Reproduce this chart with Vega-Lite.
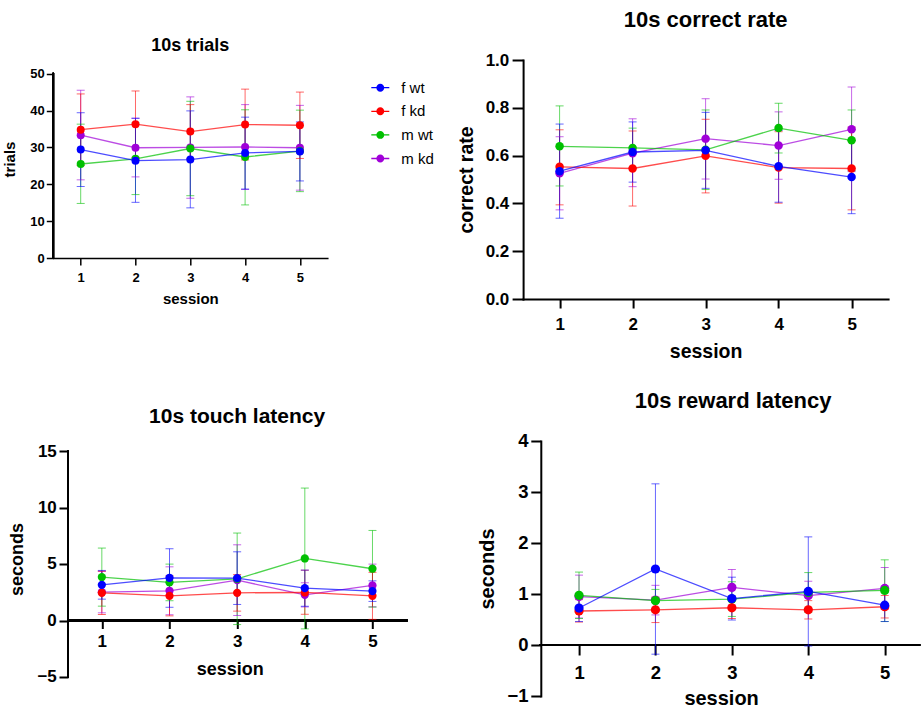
{
  "$schema": "https://vega.github.io/schema/vega-lite/v6.json",
  "padding": {"left": 2.3, "top": 9, "right": 0, "bottom": 0},
  "background": "white",
  "datasets": {
    "trials": [
      {"group": "m kd", "session": 1, "mean": 33.3, "lo": 21.2, "hi": 45.5},
      {"group": "m kd", "session": 2, "mean": 29.9, "lo": 22.0, "hi": 37.9},
      {"group": "m kd", "session": 3, "mean": 30.0, "lo": 16.2, "hi": 43.7},
      {"group": "m kd", "session": 4, "mean": 30.1, "lo": 18.6, "hi": 41.6},
      {"group": "m kd", "session": 5, "mean": 29.9, "lo": 18.4, "hi": 41.4},
      {"group": "m wt", "session": 1, "mean": 25.5, "lo": 14.8, "hi": 36.3},
      {"group": "m wt", "session": 2, "mean": 26.9, "lo": 17.2, "hi": 36.6},
      {"group": "m wt", "session": 3, "mean": 29.7, "lo": 16.9, "hi": 42.5},
      {"group": "m wt", "session": 4, "mean": 27.4, "lo": 14.4, "hi": 40.2},
      {"group": "m wt", "session": 5, "mean": 29.0, "lo": 18.0, "hi": 40.1},
      {"group": "f kd", "session": 1, "mean": 34.8, "lo": 25.1, "hi": 44.5},
      {"group": "f kd", "session": 2, "mean": 36.3, "lo": 27.3, "hi": 45.3},
      {"group": "f kd", "session": 3, "mean": 34.3, "lo": 27.0, "hi": 41.6},
      {"group": "f kd", "session": 4, "mean": 36.2, "lo": 26.6, "hi": 45.8},
      {"group": "f kd", "session": 5, "mean": 36.0, "lo": 27.0, "hi": 45.0},
      {"group": "f wt", "session": 1, "mean": 29.4, "lo": 19.4, "hi": 39.4},
      {"group": "f wt", "session": 2, "mean": 26.4, "lo": 15.1, "hi": 37.9},
      {"group": "f wt", "session": 3, "mean": 26.7, "lo": 13.6, "hi": 39.9},
      {"group": "f wt", "session": 4, "mean": 28.5, "lo": 18.7, "hi": 38.2},
      {"group": "f wt", "session": 5, "mean": 28.9, "lo": 20.9, "hi": 36.9}
    ],
    "correct": [
      {"group": "m kd", "session": 1, "mean": 0.526, "lo": 0.373, "hi": 0.679},
      {"group": "m kd", "session": 2, "mean": 0.61, "lo": 0.47, "hi": 0.754},
      {"group": "m kd", "session": 3, "mean": 0.671, "lo": 0.502, "hi": 0.838},
      {"group": "m kd", "session": 4, "mean": 0.642, "lo": 0.501, "hi": 0.783},
      {"group": "m kd", "session": 5, "mean": 0.71, "lo": 0.533, "hi": 0.887},
      {"group": "m wt", "session": 1, "mean": 0.639, "lo": 0.473, "hi": 0.808},
      {"group": "m wt", "session": 2, "mean": 0.632, "lo": 0.549, "hi": 0.715},
      {"group": "m wt", "session": 3, "mean": 0.624, "lo": 0.458, "hi": 0.791},
      {"group": "m wt", "session": 4, "mean": 0.715, "lo": 0.611, "hi": 0.819},
      {"group": "m wt", "session": 5, "mean": 0.664, "lo": 0.537, "hi": 0.791},
      {"group": "f kd", "session": 1, "mean": 0.553, "lo": 0.394, "hi": 0.708},
      {"group": "f kd", "session": 2, "mean": 0.546, "lo": 0.389, "hi": 0.703},
      {"group": "f kd", "session": 3, "mean": 0.599, "lo": 0.444, "hi": 0.752},
      {"group": "f kd", "session": 4, "mean": 0.55, "lo": 0.401, "hi": 0.70},
      {"group": "f kd", "session": 5, "mean": 0.546, "lo": 0.373, "hi": 0.719},
      {"group": "f wt", "session": 1, "mean": 0.535, "lo": 0.338, "hi": 0.732},
      {"group": "f wt", "session": 2, "mean": 0.615, "lo": 0.489, "hi": 0.741},
      {"group": "f wt", "session": 3, "mean": 0.622, "lo": 0.463, "hi": 0.781},
      {"group": "f wt", "session": 4, "mean": 0.555, "lo": 0.405, "hi": 0.705},
      {"group": "f wt", "session": 5, "mean": 0.51, "lo": 0.357, "hi": 0.663}
    ],
    "touch": [
      {"group": "m kd", "session": 1, "mean": 2.51, "lo": 0.68, "hi": 4.34},
      {"group": "m kd", "session": 2, "mean": 2.63, "lo": 0.51, "hi": 4.75},
      {"group": "m kd", "session": 3, "mean": 3.57, "lo": 0.44, "hi": 6.70},
      {"group": "m kd", "session": 4, "mean": 2.27, "lo": 1.2, "hi": 3.34},
      {"group": "m kd", "session": 5, "mean": 3.1, "lo": 1.21, "hi": 4.99},
      {"group": "m wt", "session": 1, "mean": 3.84, "lo": 1.27, "hi": 6.41},
      {"group": "m wt", "session": 2, "mean": 3.37, "lo": 1.75, "hi": 4.99},
      {"group": "m wt", "session": 3, "mean": 3.69, "lo": -0.36, "hi": 7.74},
      {"group": "m wt", "session": 4, "mean": 5.49, "lo": -0.74, "hi": 11.72},
      {"group": "m wt", "session": 5, "mean": 4.58, "lo": 1.19, "hi": 7.97},
      {"group": "f kd", "session": 1, "mean": 2.45, "lo": 0.53, "hi": 4.37},
      {"group": "f kd", "session": 2, "mean": 2.18, "lo": 0.41, "hi": 3.96},
      {"group": "f kd", "session": 3, "mean": 2.45, "lo": 0.83, "hi": 4.07},
      {"group": "f kd", "session": 4, "mean": 2.48, "lo": 0.55, "hi": 4.45},
      {"group": "f kd", "session": 5, "mean": 2.18, "lo": 0.1, "hi": 4.26},
      {"group": "f wt", "session": 1, "mean": 3.16, "lo": 1.89, "hi": 4.43},
      {"group": "f wt", "session": 2, "mean": 3.78, "lo": 1.17, "hi": 6.35},
      {"group": "f wt", "session": 3, "mean": 3.75, "lo": 1.42, "hi": 6.08},
      {"group": "f wt", "session": 4, "mean": 2.86, "lo": 1.26, "hi": 4.46},
      {"group": "f wt", "session": 5, "mean": 2.6, "lo": 1.69, "hi": 3.51}
    ],
    "reward": [
      {"group": "m kd", "session": 1, "mean": 0.95, "lo": 0.53, "hi": 1.37},
      {"group": "m kd", "session": 2, "mean": 0.88, "lo": 0.59, "hi": 1.17},
      {"group": "m kd", "session": 3, "mean": 1.13, "lo": 0.78, "hi": 1.48},
      {"group": "m kd", "session": 4, "mean": 0.97, "lo": 0.69, "hi": 1.25},
      {"group": "m kd", "session": 5, "mean": 1.11, "lo": 0.70, "hi": 1.52},
      {"group": "m wt", "session": 1, "mean": 0.974, "lo": 0.52, "hi": 1.43},
      {"group": "m wt", "session": 2, "mean": 0.87, "lo": 0.65, "hi": 1.09},
      {"group": "m wt", "session": 3, "mean": 0.90, "lo": 0.56, "hi": 1.24},
      {"group": "m wt", "session": 4, "mean": 1.03, "lo": 0.64, "hi": 1.42},
      {"group": "m wt", "session": 5, "mean": 1.07, "lo": 0.46, "hi": 1.67},
      {"group": "f kd", "session": 1, "mean": 0.667, "lo": 0.45, "hi": 0.89},
      {"group": "f kd", "session": 2, "mean": 0.69, "lo": 0.44, "hi": 0.94},
      {"group": "f kd", "session": 3, "mean": 0.73, "lo": 0.52, "hi": 0.94},
      {"group": "f kd", "session": 4, "mean": 0.69, "lo": 0.51, "hi": 0.87},
      {"group": "f kd", "session": 5, "mean": 0.75, "lo": 0.53, "hi": 0.97},
      {"group": "f wt", "session": 1, "mean": 0.725, "lo": 0.46, "hi": 0.99},
      {"group": "f wt", "session": 2, "mean": 1.49, "lo": -0.18, "hi": 3.16},
      {"group": "f wt", "session": 3, "mean": 0.91, "lo": 0.49, "hi": 1.33},
      {"group": "f wt", "session": 4, "mean": 1.05, "lo": -0.02, "hi": 2.12},
      {"group": "f wt", "session": 5, "mean": 0.78, "lo": 0.46, "hi": 1.10}
    ]
  },
  "resolve": {"scale": {"color": "independent"}, "legend": {"color": "independent"}},
  "columns": 2,
  "spacing": {"row": 28, "column": 21.8},
  "concat": [
    {
      "width": 274, "height": 198,
      "data": {"name": "trials"},
      "title": {"text": "10s trials", "fontSize": 18, "offset": 4.7, "frame": "group"},
      "encoding": {
        "x": {"field": "session", "type": "quantitative", "scale": {"domain": [0.5, 5.5], "nice": false, "zero": false},
          "axis": {"values": [1, 2, 3, 4, 5], "format": "d", "title": "session", "labelFontSize": 13, "titleFontSize": 15, "tickSize": 7, "labelPadding": 6, "titlePadding": 7, "domainWidth": 1.5, "tickWidth": 1.5}}
      },
      "layer": [
        {"mark": {"type": "rule", "color": "#000", "strokeWidth": 1.5, "strokeCap": "square"},
          "encoding": {
            "x": {"datum": 0.5, "type": "quantitative", "scale": {"domain": [0.5, 5.5], "nice": false, "zero": false}, "axis": {"values": [1, 2, 3, 4, 5], "format": "d", "title": "session", "labelFontSize": 13, "titleFontSize": 15, "tickSize": 7, "labelPadding": 6, "titlePadding": 7, "domainWidth": 1.5, "tickWidth": 1.5}},
            "y": {"datum": 0, "type": "quantitative", "scale": {"domain": [0, 53.7], "nice": false, "zero": false}, "axis": {"values": [0, 10, 20, 30, 40, 50], "title": "trials", "labelFontSize": 13, "titleFontSize": 15, "tickSize": 7, "labelPadding": 2, "titlePadding": 12.4, "domain": false, "tickWidth": 1.5}},
            "y2": {"datum": 50}}},
        {"mark": {"type": "rule", "strokeWidth": 1, "opacity": 0.6},
          "encoding": {"y": {"field": "lo", "type": "quantitative", "scale": {"domain": [0, 53.7], "nice": false, "zero": false}, "axis": {"values": [0, 10, 20, 30, 40, 50], "title": "trials", "labelFontSize": 13, "titleFontSize": 15, "tickSize": 7, "labelPadding": 2, "titlePadding": 12.4, "domain": false, "tickWidth": 1.5}}, "y2": {"field": "hi"},
            "color": {"field": "group", "type": "nominal", "scale": {"domain": ["f wt", "f kd", "m wt", "m kd"], "range": ["#0000FF", "#FF0000", "#00C000", "#A000D8"]},
              "legend": {"orient": "none", "legendX": 318, "legendY": 18.7, "title": null, "symbolType": "M-1,-0.07H1V0.07H-1Z M0.44,0A0.44,0.44 0 1,1 -0.44,0A0.44,0.44 0 1,1 0.44,0Z", "symbolSize": 324, "symbolStrokeWidth": 0, "symbolOpacity": 1, "labelFontSize": 15, "labelFont": "Liberation Sans", "labelFontWeight": "normal", "labelColor": "#000", "labelOffset": 12, "rowPadding": 6.6, "padding": 0}}}},
        {"mark": {"type": "tick", "orient": "horizontal", "size": 8, "thickness": 1, "opacity": 0.6},
          "encoding": {"y": {"field": "lo", "type": "quantitative", "scale": {"domain": [0, 53.7], "nice": false, "zero": false}, "axis": {"values": [0, 10, 20, 30, 40, 50], "title": "trials", "labelFontSize": 13, "titleFontSize": 15, "tickSize": 7, "labelPadding": 2, "titlePadding": 12.4, "domain": false, "tickWidth": 1.5}},
            "color": {"field": "group", "type": "nominal", "scale": {"domain": ["f wt", "f kd", "m wt", "m kd"], "range": ["#0000FF", "#FF0000", "#00C000", "#A000D8"]},
              "legend": {"orient": "none", "legendX": 318, "legendY": 18.7, "title": null, "symbolType": "M-1,-0.07H1V0.07H-1Z M0.44,0A0.44,0.44 0 1,1 -0.44,0A0.44,0.44 0 1,1 0.44,0Z", "symbolSize": 324, "symbolStrokeWidth": 0, "symbolOpacity": 1, "labelFontSize": 15, "labelFont": "Liberation Sans", "labelFontWeight": "normal", "labelColor": "#000", "labelOffset": 12, "rowPadding": 6.6, "padding": 0}}}},
        {"mark": {"type": "tick", "orient": "horizontal", "size": 8, "thickness": 1, "opacity": 0.6},
          "encoding": {"y": {"field": "hi", "type": "quantitative", "scale": {"domain": [0, 53.7], "nice": false, "zero": false}, "axis": {"values": [0, 10, 20, 30, 40, 50], "title": "trials", "labelFontSize": 13, "titleFontSize": 15, "tickSize": 7, "labelPadding": 2, "titlePadding": 12.4, "domain": false, "tickWidth": 1.5}},
            "color": {"field": "group", "type": "nominal", "scale": {"domain": ["f wt", "f kd", "m wt", "m kd"], "range": ["#0000FF", "#FF0000", "#00C000", "#A000D8"]},
              "legend": {"orient": "none", "legendX": 318, "legendY": 18.7, "title": null, "symbolType": "M-1,-0.07H1V0.07H-1Z M0.44,0A0.44,0.44 0 1,1 -0.44,0A0.44,0.44 0 1,1 0.44,0Z", "symbolSize": 324, "symbolStrokeWidth": 0, "symbolOpacity": 1, "labelFontSize": 15, "labelFont": "Liberation Sans", "labelFontWeight": "normal", "labelColor": "#000", "labelOffset": 12, "rowPadding": 6.6, "padding": 0}}}},
        {"mark": {"type": "line", "strokeWidth": 1.3, "opacity": 0.7},
          "encoding": {"y": {"field": "mean", "type": "quantitative", "scale": {"domain": [0, 53.7], "nice": false, "zero": false}, "axis": {"values": [0, 10, 20, 30, 40, 50], "title": "trials", "labelFontSize": 13, "titleFontSize": 15, "tickSize": 7, "labelPadding": 2, "titlePadding": 12.4, "domain": false, "tickWidth": 1.5}},
            "color": {"field": "group", "type": "nominal", "scale": {"domain": ["f wt", "f kd", "m wt", "m kd"], "range": ["#0000FF", "#FF0000", "#00C000", "#A000D8"]},
              "legend": {"orient": "none", "legendX": 318, "legendY": 18.7, "title": null, "symbolType": "M-1,-0.07H1V0.07H-1Z M0.44,0A0.44,0.44 0 1,1 -0.44,0A0.44,0.44 0 1,1 0.44,0Z", "symbolSize": 324, "symbolStrokeWidth": 0, "symbolOpacity": 1, "labelFontSize": 15, "labelFont": "Liberation Sans", "labelFontWeight": "normal", "labelColor": "#000", "labelOffset": 12, "rowPadding": 6.6, "padding": 0}}}},
        {"mark": {"type": "point", "filled": true, "size": 64, "opacity": 1},
          "encoding": {"y": {"field": "mean", "type": "quantitative", "scale": {"domain": [0, 53.7], "nice": false, "zero": false}, "axis": {"values": [0, 10, 20, 30, 40, 50], "title": "trials", "labelFontSize": 13, "titleFontSize": 15, "tickSize": 7, "labelPadding": 2, "titlePadding": 12.4, "domain": false, "tickWidth": 1.5}},
            "color": {"field": "group", "type": "nominal", "scale": {"domain": ["f wt", "f kd", "m wt", "m kd"], "range": ["#0000FF", "#FF0000", "#00C000", "#A000D8"]},
              "legend": {"orient": "none", "legendX": 318, "legendY": 18.7, "title": null, "symbolType": "M-1,-0.07H1V0.07H-1Z M0.44,0A0.44,0.44 0 1,1 -0.44,0A0.44,0.44 0 1,1 0.44,0Z", "symbolSize": 324, "symbolStrokeWidth": 0, "symbolOpacity": 1, "labelFontSize": 15, "labelFont": "Liberation Sans", "labelFontWeight": "normal", "labelColor": "#000", "labelOffset": 12, "rowPadding": 6.6, "padding": 0}}}}
      ]
    },
    {
      "width": 365, "height": 239,
      "data": {"name": "correct"},
      "title": {"text": "10s correct rate", "fontSize": 22, "offset": 19, "frame": "group"},
      "encoding": {
        "x": {"field": "session", "type": "quantitative", "scale": {"domain": [0.5, 5.5], "nice": false, "zero": false},
          "axis": {"values": [1, 2, 3, 4, 5], "format": "d", "title": "session", "labelFontSize": 17, "titleFontSize": 19.5, "tickSize": 9, "labelPadding": 8.7, "titlePadding": 10, "domainWidth": 2, "tickWidth": 2}},
        "color": {"field": "group", "type": "nominal", "scale": {"domain": ["f wt", "f kd", "m wt", "m kd"], "range": ["#0000FF", "#FF0000", "#00C000", "#A000D8"]}, "legend": null}
      },
      "layer": [
        {"mark": {"type": "rule", "strokeWidth": 1, "opacity": 0.6},
          "encoding": {"y": {"field": "lo", "type": "quantitative", "scale": {"domain": [0, 1], "nice": false}, "axis": {"values": [0, 0.2, 0.4, 0.6, 0.8, 1.0], "format": ".1f", "title": "correct rate", "labelFontSize": 17, "titleFontSize": 19.5, "tickSize": 11, "labelPadding": 3.3, "titlePadding": 8.7, "domainWidth": 2, "tickWidth": 2}}, "y2": {"field": "hi"}}},
        {"mark": {"type": "tick", "orient": "horizontal", "size": 8, "thickness": 1, "opacity": 0.6},
          "encoding": {"y": {"field": "lo", "type": "quantitative", "scale": {"domain": [0, 1], "nice": false}, "axis": {"values": [0, 0.2, 0.4, 0.6, 0.8, 1.0], "format": ".1f", "title": "correct rate", "labelFontSize": 17, "titleFontSize": 19.5, "tickSize": 11, "labelPadding": 3.3, "titlePadding": 8.7, "domainWidth": 2, "tickWidth": 2}}}},
        {"mark": {"type": "tick", "orient": "horizontal", "size": 8, "thickness": 1, "opacity": 0.6},
          "encoding": {"y": {"field": "hi", "type": "quantitative", "scale": {"domain": [0, 1], "nice": false}, "axis": {"values": [0, 0.2, 0.4, 0.6, 0.8, 1.0], "format": ".1f", "title": "correct rate", "labelFontSize": 17, "titleFontSize": 19.5, "tickSize": 11, "labelPadding": 3.3, "titlePadding": 8.7, "domainWidth": 2, "tickWidth": 2}}}},
        {"mark": {"type": "line", "strokeWidth": 1.3, "opacity": 0.7},
          "encoding": {"y": {"field": "mean", "type": "quantitative", "scale": {"domain": [0, 1], "nice": false}, "axis": {"values": [0, 0.2, 0.4, 0.6, 0.8, 1.0], "format": ".1f", "title": "correct rate", "labelFontSize": 17, "titleFontSize": 19.5, "tickSize": 11, "labelPadding": 3.3, "titlePadding": 8.7, "domainWidth": 2, "tickWidth": 2}}}},
        {"mark": {"type": "point", "filled": true, "size": 72, "opacity": 1},
          "encoding": {"y": {"field": "mean", "type": "quantitative", "scale": {"domain": [0, 1], "nice": false}, "axis": {"values": [0, 0.2, 0.4, 0.6, 0.8, 1.0], "format": ".1f", "title": "correct rate", "labelFontSize": 17, "titleFontSize": 19.5, "tickSize": 11, "labelPadding": 3.3, "titlePadding": 8.7, "domainWidth": 2, "tickWidth": 2}}}}
      ]
    },
    {
      "width": 353, "height": 236,
      "data": {"name": "touch"},
      "title": {"text": "10s touch latency", "fontSize": 21, "offset": 14, "frame": "group", "dx": 7.3},
      "encoding": {
        "x": {"field": "session", "type": "quantitative", "scale": {"domain": [0.2825, 5.5], "nice": false, "zero": false},
          "axis": {"values": [1, 2, 3, 4, 5], "format": "d", "title": "session", "labelFontSize": 17, "titleFontSize": 18, "tickSize": 8, "labelPadding": 5.2, "titlePadding": 10.5, "domain": false, "tickWidth": 2, "offset": -56.5}}
      },
      "layer": [
        {"mark": {"type": "rule", "color": "#000", "strokeWidth": 2, "strokeCap": "square"},
          "encoding": {
            "x": {"datum": 0.5, "type": "quantitative", "scale": {"domain": [0.2825, 5.5], "nice": false, "zero": false}, "axis": {"values": [1, 2, 3, 4, 5], "format": "d", "title": "session", "labelFontSize": 17, "titleFontSize": 18, "tickSize": 8, "labelPadding": 5.2, "titlePadding": 10.5, "domain": false, "tickWidth": 2, "offset": -56.5}},
            "y": {"datum": -5, "type": "quantitative", "scale": {"domain": [-5, 15.885], "nice": false, "zero": false}, "axis": {"values": [-5, 0, 5, 10, 15], "title": "seconds", "labelFontSize": 17, "titleFontSize": 18, "tickSize": 9, "labelPadding": 2.7, "titlePadding": 10.8, "domain": false, "tickWidth": 2, "offset": -14.7}},
            "y2": {"datum": 15}}},
        {"mark": {"type": "rule", "color": "#000", "strokeWidth": 2, "strokeCap": "square"},
          "encoding": {
            "x": {"datum": 0.5, "type": "quantitative", "scale": {"domain": [0.2825, 5.5], "nice": false, "zero": false}, "axis": {"values": [1, 2, 3, 4, 5], "format": "d", "title": "session", "labelFontSize": 17, "titleFontSize": 18, "tickSize": 8, "labelPadding": 5.2, "titlePadding": 10.5, "domain": false, "tickWidth": 2, "offset": -56.5}},
            "x2": {"datum": 5.5},
            "y": {"datum": 0, "type": "quantitative", "scale": {"domain": [-5, 15.885], "nice": false, "zero": false}, "axis": {"values": [-5, 0, 5, 10, 15], "title": "seconds", "labelFontSize": 17, "titleFontSize": 18, "tickSize": 9, "labelPadding": 2.7, "titlePadding": 10.8, "domain": false, "tickWidth": 2, "offset": -14.7}}}},
        {"mark": {"type": "rule", "strokeWidth": 1, "opacity": 0.6},
          "encoding": {"y": {"field": "lo", "type": "quantitative", "scale": {"domain": [-5, 15.885], "nice": false, "zero": false}, "axis": {"values": [-5, 0, 5, 10, 15], "title": "seconds", "labelFontSize": 17, "titleFontSize": 18, "tickSize": 9, "labelPadding": 2.7, "titlePadding": 10.8, "domain": false, "tickWidth": 2, "offset": -14.7}}, "y2": {"field": "hi"},
            "color": {"field": "group", "type": "nominal", "scale": {"domain": ["f wt", "f kd", "m wt", "m kd"], "range": ["#0000FF", "#FF0000", "#00C000", "#A000D8"]}, "legend": null}}},
        {"mark": {"type": "tick", "orient": "horizontal", "size": 8, "thickness": 1, "opacity": 0.6},
          "encoding": {"y": {"field": "lo", "type": "quantitative", "scale": {"domain": [-5, 15.885], "nice": false, "zero": false}, "axis": {"values": [-5, 0, 5, 10, 15], "title": "seconds", "labelFontSize": 17, "titleFontSize": 18, "tickSize": 9, "labelPadding": 2.7, "titlePadding": 10.8, "domain": false, "tickWidth": 2, "offset": -14.7}},
            "color": {"field": "group", "type": "nominal", "scale": {"domain": ["f wt", "f kd", "m wt", "m kd"], "range": ["#0000FF", "#FF0000", "#00C000", "#A000D8"]}, "legend": null}}},
        {"mark": {"type": "tick", "orient": "horizontal", "size": 8, "thickness": 1, "opacity": 0.6},
          "encoding": {"y": {"field": "hi", "type": "quantitative", "scale": {"domain": [-5, 15.885], "nice": false, "zero": false}, "axis": {"values": [-5, 0, 5, 10, 15], "title": "seconds", "labelFontSize": 17, "titleFontSize": 18, "tickSize": 9, "labelPadding": 2.7, "titlePadding": 10.8, "domain": false, "tickWidth": 2, "offset": -14.7}},
            "color": {"field": "group", "type": "nominal", "scale": {"domain": ["f wt", "f kd", "m wt", "m kd"], "range": ["#0000FF", "#FF0000", "#00C000", "#A000D8"]}, "legend": null}}},
        {"mark": {"type": "line", "strokeWidth": 1.3, "opacity": 0.7},
          "encoding": {"y": {"field": "mean", "type": "quantitative", "scale": {"domain": [-5, 15.885], "nice": false, "zero": false}, "axis": {"values": [-5, 0, 5, 10, 15], "title": "seconds", "labelFontSize": 17, "titleFontSize": 18, "tickSize": 9, "labelPadding": 2.7, "titlePadding": 10.8, "domain": false, "tickWidth": 2, "offset": -14.7}},
            "color": {"field": "group", "type": "nominal", "scale": {"domain": ["f wt", "f kd", "m wt", "m kd"], "range": ["#0000FF", "#FF0000", "#00C000", "#A000D8"]}, "legend": null}}},
        {"mark": {"type": "point", "filled": true, "size": 68, "opacity": 1},
          "encoding": {"y": {"field": "mean", "type": "quantitative", "scale": {"domain": [-5, 15.885], "nice": false, "zero": false}, "axis": {"values": [-5, 0, 5, 10, 15], "title": "seconds", "labelFontSize": 17, "titleFontSize": 18, "tickSize": 9, "labelPadding": 2.7, "titlePadding": 10.8, "domain": false, "tickWidth": 2, "offset": -14.7}},
            "color": {"field": "group", "type": "nominal", "scale": {"domain": ["f wt", "f kd", "m wt", "m kd"], "range": ["#0000FF", "#FF0000", "#00C000", "#A000D8"]}, "legend": null}}}
      ]
    },
    {
      "width": 396, "height": 255,
      "data": {"name": "reward"},
      "title": {"text": "10s reward latency", "fontSize": 22, "offset": 18.5, "frame": "group", "dx": 12},
      "encoding": {
        "x": {"field": "session", "type": "quantitative", "scale": {"domain": [0.2683, 5.45], "nice": false, "zero": false},
          "axis": {"values": [1, 2, 3, 4, 5], "format": "d", "title": "session", "labelFontSize": 18.5, "titleFontSize": 20, "tickSize": 10, "labelPadding": 8.6, "titlePadding": 6, "domain": false, "tickWidth": 2, "offset": -51}}
      },
      "layer": [
        {"mark": {"type": "rule", "color": "#000", "strokeWidth": 2, "strokeCap": "square"},
          "encoding": {
            "x": {"datum": 0.5, "type": "quantitative", "scale": {"domain": [0.2683, 5.45], "nice": false, "zero": false}, "axis": {"values": [1, 2, 3, 4, 5], "format": "d", "title": "session", "labelFontSize": 18.5, "titleFontSize": 20, "tickSize": 10, "labelPadding": 8.6, "titlePadding": 6, "domain": false, "tickWidth": 2, "offset": -51}},
            "x2": {"datum": 5.45},
            "y": {"datum": 0, "type": "quantitative", "scale": {"domain": [-1, 4], "nice": false, "zero": false}, "axis": {"values": [-1, 0, 1, 2, 3, 4], "title": "seconds", "labelFontSize": 18.5, "titleFontSize": 20, "tickSize": 10, "labelPadding": 2.7, "titlePadding": 9.6, "domainWidth": 2, "tickWidth": 2, "offset": -17.7}}}},
        {"mark": {"type": "rule", "strokeWidth": 1, "opacity": 0.6},
          "encoding": {"y": {"field": "lo", "type": "quantitative", "scale": {"domain": [-1, 4], "nice": false, "zero": false}, "axis": {"values": [-1, 0, 1, 2, 3, 4], "title": "seconds", "labelFontSize": 18.5, "titleFontSize": 20, "tickSize": 10, "labelPadding": 2.7, "titlePadding": 9.6, "domainWidth": 2, "tickWidth": 2, "offset": -17.7}}, "y2": {"field": "hi"},
            "color": {"field": "group", "type": "nominal", "scale": {"domain": ["f wt", "f kd", "m wt", "m kd"], "range": ["#0000FF", "#FF0000", "#00C000", "#A000D8"]}, "legend": null}}},
        {"mark": {"type": "tick", "orient": "horizontal", "size": 8, "thickness": 1, "opacity": 0.6},
          "encoding": {"y": {"field": "lo", "type": "quantitative", "scale": {"domain": [-1, 4], "nice": false, "zero": false}, "axis": {"values": [-1, 0, 1, 2, 3, 4], "title": "seconds", "labelFontSize": 18.5, "titleFontSize": 20, "tickSize": 10, "labelPadding": 2.7, "titlePadding": 9.6, "domainWidth": 2, "tickWidth": 2, "offset": -17.7}},
            "color": {"field": "group", "type": "nominal", "scale": {"domain": ["f wt", "f kd", "m wt", "m kd"], "range": ["#0000FF", "#FF0000", "#00C000", "#A000D8"]}, "legend": null}}},
        {"mark": {"type": "tick", "orient": "horizontal", "size": 8, "thickness": 1, "opacity": 0.6},
          "encoding": {"y": {"field": "hi", "type": "quantitative", "scale": {"domain": [-1, 4], "nice": false, "zero": false}, "axis": {"values": [-1, 0, 1, 2, 3, 4], "title": "seconds", "labelFontSize": 18.5, "titleFontSize": 20, "tickSize": 10, "labelPadding": 2.7, "titlePadding": 9.6, "domainWidth": 2, "tickWidth": 2, "offset": -17.7}},
            "color": {"field": "group", "type": "nominal", "scale": {"domain": ["f wt", "f kd", "m wt", "m kd"], "range": ["#0000FF", "#FF0000", "#00C000", "#A000D8"]}, "legend": null}}},
        {"mark": {"type": "line", "strokeWidth": 1.3, "opacity": 0.7},
          "encoding": {"y": {"field": "mean", "type": "quantitative", "scale": {"domain": [-1, 4], "nice": false, "zero": false}, "axis": {"values": [-1, 0, 1, 2, 3, 4], "title": "seconds", "labelFontSize": 18.5, "titleFontSize": 20, "tickSize": 10, "labelPadding": 2.7, "titlePadding": 9.6, "domainWidth": 2, "tickWidth": 2, "offset": -17.7}},
            "color": {"field": "group", "type": "nominal", "scale": {"domain": ["f wt", "f kd", "m wt", "m kd"], "range": ["#0000FF", "#FF0000", "#00C000", "#A000D8"]}, "legend": null}}},
        {"mark": {"type": "point", "filled": true, "size": 85, "opacity": 1},
          "encoding": {"y": {"field": "mean", "type": "quantitative", "scale": {"domain": [-1, 4], "nice": false, "zero": false}, "axis": {"values": [-1, 0, 1, 2, 3, 4], "title": "seconds", "labelFontSize": 18.5, "titleFontSize": 20, "tickSize": 10, "labelPadding": 2.7, "titlePadding": 9.6, "domainWidth": 2, "tickWidth": 2, "offset": -17.7}},
            "color": {"field": "group", "type": "nominal", "scale": {"domain": ["f wt", "f kd", "m wt", "m kd"], "range": ["#0000FF", "#FF0000", "#00C000", "#A000D8"]}, "legend": null}}}
      ]
    }
  ],
  "config": {
    "view": {"stroke": null},
    "axis": {"grid": false, "domainColor": "#000", "tickColor": "#000", "labelColor": "#000", "titleColor": "#000", "labelFont": "Liberation Sans", "titleFont": "Liberation Sans", "labelFontWeight": "bold", "titleFontWeight": "bold", "labelFlush": false, "labelOverlap": false, "domainCap": "square"},
    "title": {"font": "Liberation Sans", "fontWeight": "bold", "color": "#000", "anchor": "middle", "baseline": "bottom"},
    "legend": {"labelFont": "Liberation Sans"}
  }
}
